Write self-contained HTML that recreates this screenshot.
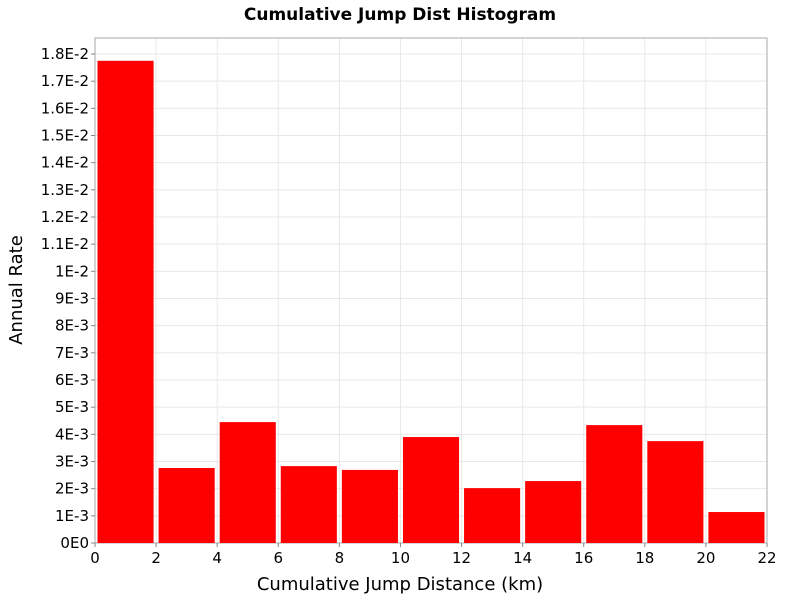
<!DOCTYPE html>
<html><head><meta charset="utf-8"><style>
body{margin:0;background:#fff;font-family:"DejaVu Sans","Liberation Sans",sans-serif;}
</style></head><body>
<svg width="800" height="600" xmlns="http://www.w3.org/2000/svg">
<text x="400" y="20" text-anchor="middle" font-weight="bold" font-size="17">Cumulative Jump Dist Histogram</text>
<g id="grid"></g>
<rect x="95" y="38" width="672" height="505" fill="none" stroke="#aaa"/>
<g id="bars"></g>
<g id="yt"></g>
<g id="xt"></g>
<text x="400" y="590" text-anchor="middle" font-size="18">Cumulative Jump Distance (km)</text>
<text transform="translate(22,290) rotate(-90)" text-anchor="middle" font-size="18">Annual Rate</text>
</svg>
<script>
const binStarts=[0,2,4,6,8,10,12,14,16,18,20];
const values=[0.01775,0.00276,0.00445,0.00283,0.00269,0.00390,0.00202,0.00228,0.00434,0.00375,0.00114];
const yTickLabels=["0E0","1E-3","2E-3","3E-3","4E-3","5E-3","6E-3","7E-3","8E-3","9E-3","1E-2","1.1E-2","1.2E-2","1.3E-2","1.4E-2","1.5E-2","1.6E-2","1.7E-2","1.8E-2"];
const xTicks=[0,2,4,6,8,10,12,14,16,18,20,22];
const NS="http://www.w3.org/2000/svg";
const X0=95,X1=767,Y0=543,Y18=54;
const xs=v=>X0+(v/22)*(X1-X0);
const ys=v=>Y0-(v/0.018)*(Y0-Y18);
function mk(t,a,p){const e=document.createElementNS(NS,t);for(const k in a)e.setAttribute(k,a[k]);p.appendChild(e);return e;}
const grid=document.getElementById('grid'),bars=document.getElementById('bars'),yt=document.getElementById('yt'),xt=document.getElementById('xt');
yTickLabels.forEach((l,i)=>{const y=ys(i*0.001);
const g=mk('line',{x1:X0,x2:X1,y1:y,y2:y,stroke:'#e8e8e8'},grid);


mk('line',{x1:X0-4,x2:X0,y1:y,y2:y,stroke:'#888'},yt);
const t=mk('text',{x:X0-6,y:y+5,'text-anchor':'end','font-size':15},yt);t.textContent=l;

});
xTicks.forEach(v=>{const x=xs(v);
const g=mk('line',{x1:x,x2:x,y1:38,y2:Y0,stroke:'#e8e8e8'},grid);


mk('line',{x1:x,x2:x,y1:Y0,y2:Y0+4,stroke:'#888'},xt);
const t=mk('text',{x:x,y:Y0+20,'text-anchor':'middle','font-size':15},xt);t.textContent=v;

});
binStarts.forEach((b,i)=>{const xa=xs(b)+2.5,xb=xs(b+2)-2.5;
const r=mk('rect',{x:xa,y:ys(values[i]),width:xb-xa,height:Y0-ys(values[i]),fill:'#ff0000'},bars);

});
</script>
</body></html>
